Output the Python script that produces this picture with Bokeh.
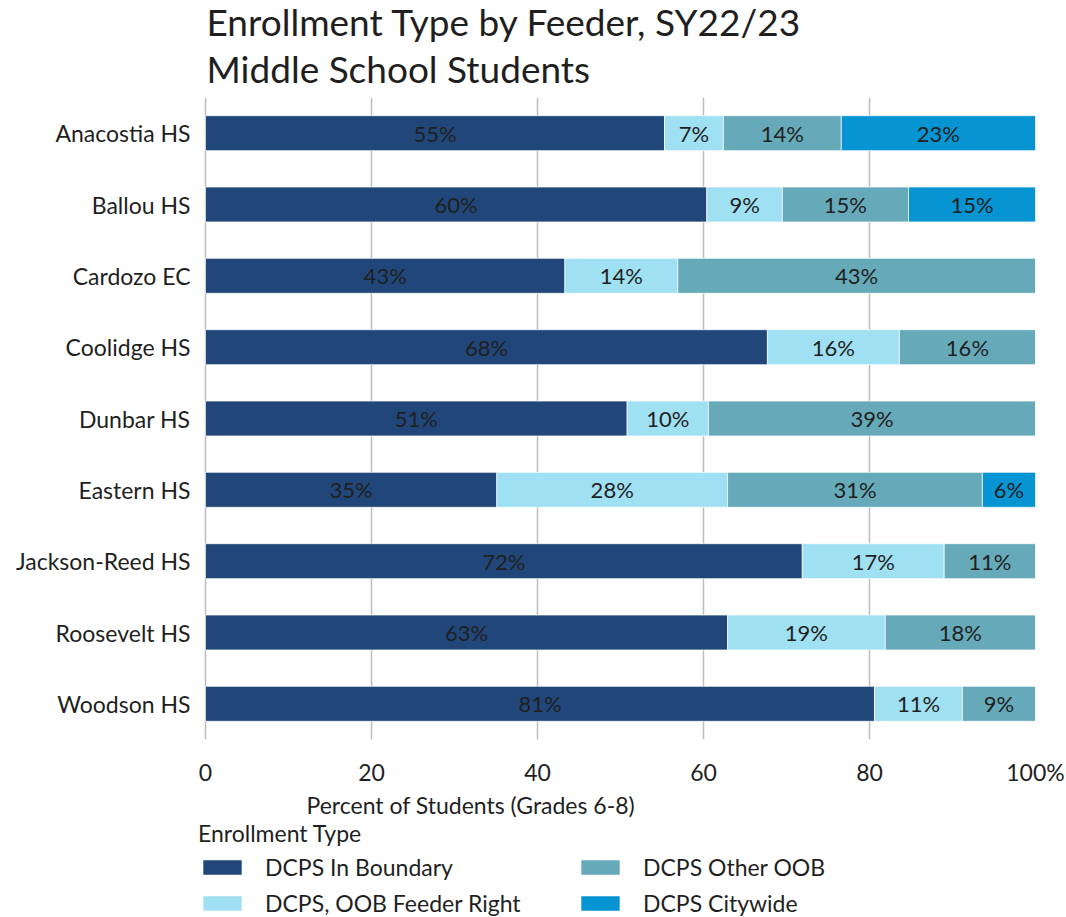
from bokeh.plotting import figure
from bokeh.models import (ColumnDataSource, FactorRange, Range1d, FixedTicker,
                          Legend, LegendItem, Title)
from bokeh.layouts import column
from bokeh.embed import file_html
from bokeh.resources import INLINE
from bokeh.core.properties import value

FONT = "Lato"
TXT = "#1f1f1f"

schools = ["Anacostia HS", "Ballou HS", "Cardozo EC", "Coolidge HS", "Dunbar HS",
           "Eastern HS", "Jackson-Reed HS", "Roosevelt HS", "Woodson HS"]
in_boundary = [55.3, 60.4, 43.3, 67.7, 50.8, 35.1, 71.9, 62.9, 80.6]
feeder_right = [7.1, 9.1, 13.6, 15.9, 9.8, 27.8, 17.1, 19.0, 10.6]
other_oob = [14.2, 15.2, 43.1, 16.4, 39.4, 30.7, 11.0, 18.1, 8.8]
citywide = [23.4, 15.3, 0, 0, 0, 6.4, 0, 0, 0]

series_keys = ["in_boundary", "feeder_right", "other_oob", "citywide"]
series_labels = ["DCPS In Boundary", "DCPS, OOB Feeder Right", "DCPS Other OOB", "DCPS Citywide"]
colors = ["#21477a", "#9fe1f2", "#66aaba", "#0694d2"]
x_ticks = [0, 20, 40, 60, 80, 100]
x_tick_labels = ["0", "20", "40", "60", "80", "100%"]

source = ColumnDataSource(dict(school=schools, in_boundary=in_boundary,
                               feeder_right=feeder_right, other_oob=other_oob,
                               citywide=citywide))

# frame starts 7px left of the 0 line so the legend below can line up with the reference
p = figure(width=1066, height=819, y_range=FactorRange(*reversed(schools)),
           x_range=Range1d(-0.843, 100), output_backend="svg", toolbar_location=None,
           title=None, min_border_left=198, min_border_right=31, min_border_top=97,
           min_border_bottom=74)

renderers = p.hbar_stack(series_keys, y="school", height=0.49, color=colors,
                         line_color="white", line_width=1, line_alpha=0.7, source=source)

# value labels
series_vals = [in_boundary, feeder_right, other_oob, citywide]
lx, ly, lt = [], [], []
for i, s in enumerate(schools):
    start = 0.0
    for vals in series_vals:
        v = vals[i]
        if v > 0:
            lx.append(start + v / 2)
            ly.append(s)
            lt.append(f"{round(v)}%")
        start += v
p.text(x=lx, y=ly, text=lt, text_align="center", text_baseline="middle",
       text_font=value(FONT), text_font_size="22px", text_color=TXT)

# axes
p.xaxis.ticker = FixedTicker(ticks=x_ticks)
p.xaxis.major_label_overrides = {t: l for t, l in zip(x_ticks, x_tick_labels)}
p.xaxis.major_label_text_font = FONT
p.xaxis.major_label_text_font_size = "23px"
p.xaxis.major_label_text_color = TXT
p.xaxis.axis_line_color = None
p.xaxis.major_tick_line_color = None
p.xaxis.minor_tick_line_color = None
p.xaxis.major_label_standoff = 12

p.yaxis.major_label_text_font = FONT
p.yaxis.major_label_text_font_size = "23px"
p.yaxis.major_label_text_color = TXT
p.yaxis.axis_line_color = None
p.yaxis.major_tick_line_color = None
p.yaxis.major_label_standoff = 2

p.xgrid.grid_line_color = "#bdbdbd"
p.xgrid.grid_line_width = 1.5
p.ygrid.grid_line_color = None
p.outline_line_color = None

# titles
p.add_layout(Title(text="Middle School Students", text_font=FONT, text_font_size="37px",
                   text_font_style="normal", text_color=TXT, align="left", offset=8,
                   standoff=14), "above")
p.add_layout(Title(text="Enrollment Type by Feeder, SY22/23", text_font=FONT,
                   text_font_size="37px", text_font_style="normal", text_color=TXT,
                   align="left", offset=8, standoff=-15), "above")

p.add_layout(Title(text="Percent of Students (Grades 6-8)", text_font=FONT,
                   text_font_size="23px", text_font_style="normal", text_color=TXT,
                   align="left", offset=108, standoff=1), "below")

# legend strip (separate figure so that it is not clipped); its renderers are hidden
p2 = figure(width=1066, height=98, y_range=FactorRange(*schools), x_range=Range1d(0, 100),
            output_backend="svg", toolbar_location=None, title=None,
            min_border_left=0, min_border_right=0, min_border_top=0, min_border_bottom=0)
p2.axis.visible = False
p2.grid.visible = False
p2.outline_line_color = None
leg_renderers = p2.hbar_stack(series_keys, y="school", height=0.49, color=colors,
                              line_color=None, source=source)
for r in leg_renderers:
    r.visible = False
items = [LegendItem(label=lab, renderers=[r]) for lab, r in zip(series_labels, leg_renderers)]
legend = Legend(items=items, orientation="vertical", nrows=2, location=(0, 0),
                title="Enrollment Type", title_text_font=FONT, title_text_font_size="23px",
                title_text_font_style="normal", title_text_color=TXT, title_standoff=6,
                glyph_width=48, glyph_height=18, label_text_font=FONT,
                label_text_font_size="23px", label_text_color=TXT, label_standoff=19,
                label_width=303, label_height=28, spacing=8, border_line_color=None,
                background_fill_alpha=0, inactive_fill_alpha=0, margin=0, padding=0)
p2.add_layout(legend, "center")

layout = column(p, p2, spacing=0)
open("out.html", "w").write(file_html(layout, INLINE))
